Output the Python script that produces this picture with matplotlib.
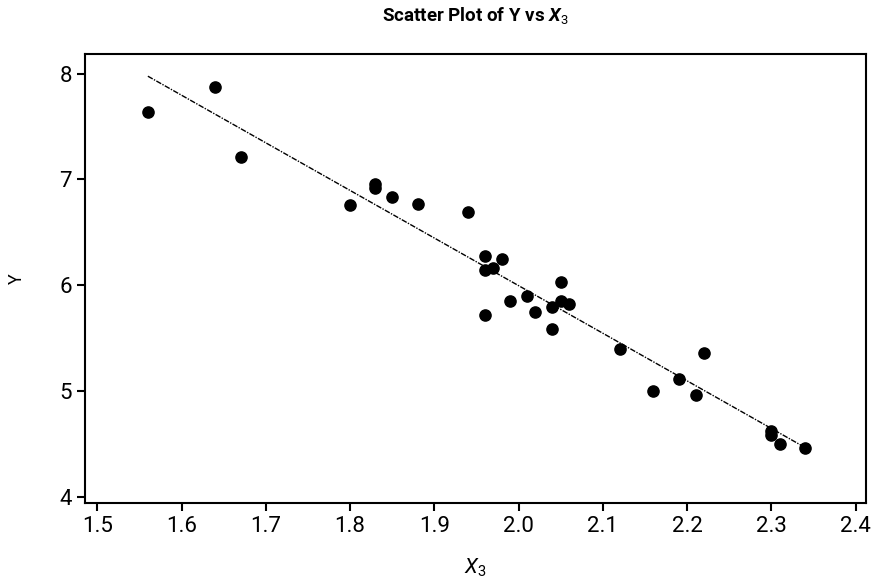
import numpy as np
import matplotlib
matplotlib.use("Agg")
import matplotlib.pyplot as plt

# values
x3 = [1.56, 1.64, 1.67, 1.80, 1.83, 1.83, 1.85, 1.88, 1.94, 1.96,
      1.98, 1.96, 1.97, 1.99, 2.01, 1.96, 2.02, 2.05, 2.04, 2.05,
      2.06, 2.04, 2.12, 2.22, 2.19, 2.16, 2.21, 2.30, 2.30, 2.31, 2.34]
y = [7.64, 7.87, 7.21, 6.76, 6.96, 6.92, 6.83, 6.77, 6.69, 6.28,
     6.25, 6.14, 6.16, 5.85, 5.90, 5.72, 5.75, 6.03, 5.79, 5.85,
     5.82, 5.59, 5.40, 5.36, 5.11, 5.00, 4.96, 4.62, 4.58, 4.50, 4.46]

xticks = [1.5, 1.6, 1.7, 1.8, 1.9, 2.0, 2.1, 2.2, 2.3, 2.4]
yticks = [4, 5, 6, 7, 8]

plt.rcParams["font.family"] = ["Roboto", "DejaVu Sans"]
plt.rcParams["mathtext.fontset"] = "custom"
plt.rcParams["mathtext.rm"] = "Roboto"
plt.rcParams["mathtext.it"] = "Roboto:italic"
plt.rcParams["mathtext.bf"] = "Roboto:bold"
plt.rcParams["mathtext.bfit"] = "Roboto:italic:bold"

fig = plt.figure(figsize=(8.71, 5.80), dpi=100)
ax = fig.add_axes([0.0976, 0.1333, 0.8963, 0.7731])

ax.scatter(x3, y, s=65, marker="o", color="black", zorder=3)

# least squares line across the data range
b, a = np.polyfit(x3, y, 1)
xs = np.array([min(x3), max(x3)])
ax.plot(xs, a + b * xs, color="black", lw=1.0, linestyle=(0, (4, 1, 1, 1)))

ax.set_xlim(1.4854, 2.4119)
ax.set_ylim(3.943, 8.183)
ax.set_xticks(xticks)
ax.set_xticklabels([f"{t:.1f}" for t in xticks])
ax.set_yticks(yticks)

ax.tick_params(axis="both", labelsize=16, width=1.5, length=6, color="black")
for s in ax.spines.values():
    s.set_linewidth(1.5)

ax.set_title(r"Scatter Plot of Y vs $\mathbfit{X}_3$", fontsize=13.5, fontweight="bold", pad=24)
ax.set_xlabel(r"$\mathit{X}_3$", fontsize=15, labelpad=14)
ax.set_ylabel("Y", fontsize=13, rotation=90, labelpad=24)

fig.savefig("out.png", dpi=100)
